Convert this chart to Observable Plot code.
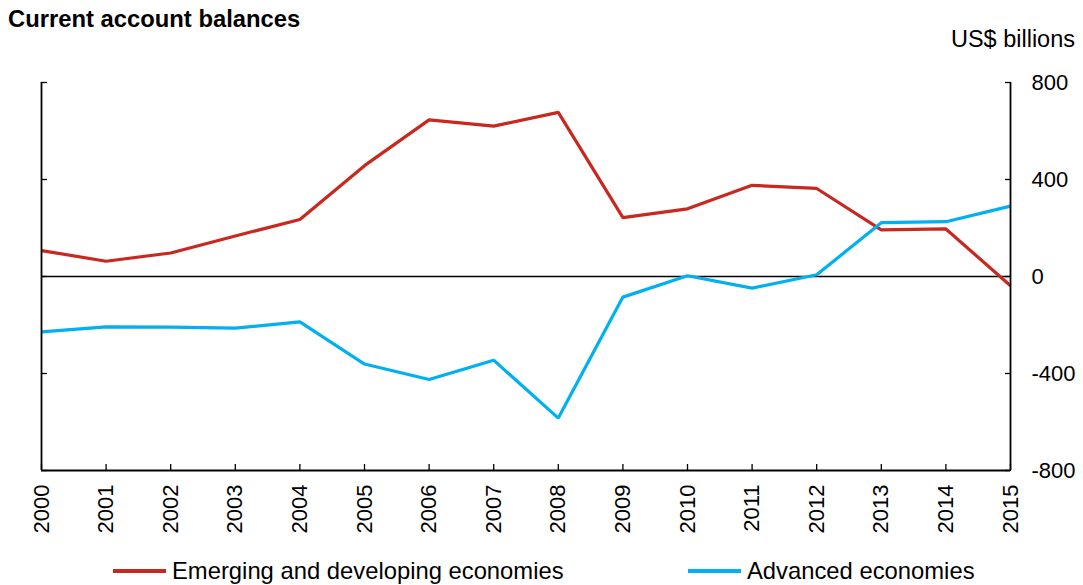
<!DOCTYPE html>
<html><head><meta charset="utf-8">
<script src="https://cdn.jsdelivr.net/npm/d3@7"></script>
<script src="https://cdn.jsdelivr.net/npm/@observablehq/plot@0.6"></script>
<style>
body{margin:0;background:#fff;font-family:"Liberation Sans",Arial,sans-serif;color:#000}
#wrap{position:relative;width:1083px;height:585px;overflow:hidden}
#title{position:absolute;left:8px;top:5px;font-weight:bold;font-size:23.8px;line-height:28px;white-space:nowrap}
#unit{position:absolute;right:8px;top:25px;font-size:23.5px;line-height:28px;white-space:nowrap}
#chart{position:absolute;left:0;top:0}
.leg{position:absolute;top:557px;display:flex;align-items:center;font-size:23.8px;line-height:28px;white-space:nowrap}
.sw{width:53px;height:4px;margin-right:6px}
</style></head><body>
<div id="wrap">
<div id="chart"></div>
<div id="title">Current account balances</div>
<div id="unit">US$ billions</div>
<div id="legend"></div>
</div>
<script>
const years = [2000,2001,2002,2003,2004,2005,2006,2007,2008,2009,2010,2011,2012,2013,2014,2015];
const emerging = [107,63,97,167,235,457,646,620,677,243,279,376,363,192,196,-38];
const advanced = [-228,-208,-209,-213,-187,-361,-425,-345,-584,-85,3,-48,7,222,226,290];
const yTicks = [-800,-400,0,400,800];
const seriesNames = ["Emerging and developing economies","Advanced economies"];
const seriesColors = ["#c8281e","#00b0f0"];

const rows = years.flatMap((y,i)=>[
  {year:y, value:emerging[i], series:seriesNames[0]},
  {year:y, value:advanced[i], series:seriesNames[1]}
]);
const font = '"Liberation Sans", Arial, sans-serif';
const chart = Plot.plot({
  width:1083, height:585,
  marginTop:82, marginBottom:115, marginLeft:41, marginRight:73,
  style:{fontFamily:font, fontSize:"22px", color:"#000", background:"transparent"},
  x:{domain:[2000,2015]},
  y:{domain:[-800,800]},
  color:{domain:seriesNames, range:seriesColors},
  marks:[
    Plot.ruleY([0],{stroke:"#000",strokeWidth:1.3}),
    Plot.lineY(rows,{x:"year",y:"value",stroke:"series",strokeWidth:3.2,strokeLinecap:"butt",strokeLinejoin:"miter"}),
    Plot.ruleX([2000,2015],{y1:-800,y2:800,stroke:"#000",strokeWidth:1.8}),
    Plot.ruleY([-800],{x1:2000,x2:2015,stroke:"#000",strokeWidth:1.8}),
    Plot.axisX({ticks:years, tickSize:6, dy:-6, fill:"none", label:null, strokeWidth:1.3}),
    Plot.axisY({anchor:"left", ticks:yTicks, tickSize:6, dx:6, fill:"none", label:null, strokeWidth:1.3}),
    Plot.axisY({anchor:"right", ticks:yTicks, tickSize:6, dx:-6, fill:"none", label:null, strokeWidth:1.3}),
    Plot.axisX({ticks:years, tickFormat:d=>String(d), tickRotate:-90, tickSize:0, tickPadding:14, label:null}),
    Plot.axisY({anchor:"right", ticks:yTicks, tickFormat:d=>String(d), tickSize:0, tickPadding:21, label:null})
  ]
});
document.getElementById("chart").appendChild(chart);

const legend = document.getElementById("legend");
const legLeft = [113, 688];
seriesNames.forEach((n,i)=>{
  const item = document.createElement("div");
  item.className = "leg";
  item.style.left = legLeft[i] + "px";
  const sw = document.createElement("div");
  sw.className = "sw";
  sw.style.background = seriesColors[i];
  const t = document.createElement("span");
  t.textContent = n;
  item.appendChild(sw); item.appendChild(t);
  legend.appendChild(item);
});
</script>
</body></html>
